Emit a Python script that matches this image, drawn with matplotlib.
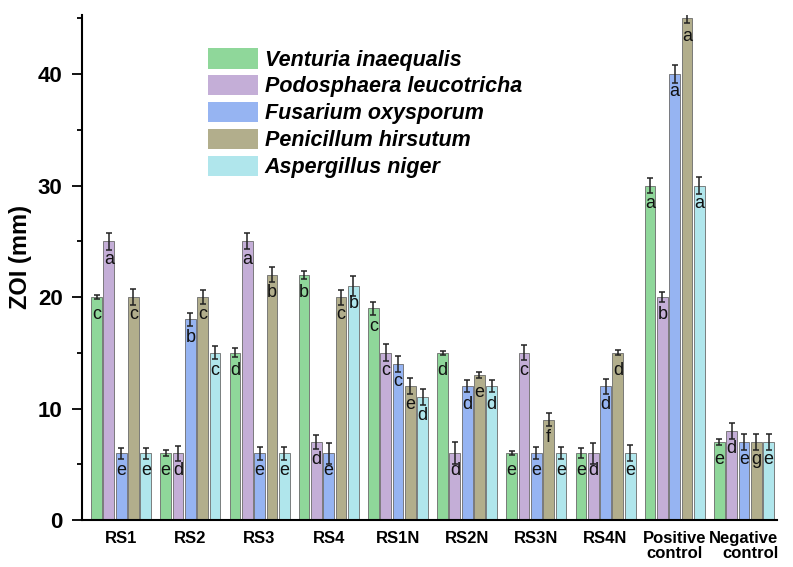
import matplotlib
matplotlib.use("Agg")
import matplotlib.pyplot as plt
import numpy as np

categories = ["RS1", "RS2", "RS3", "RS4", "RS1N", "RS2N", "RS3N", "RS4N",
              "Positive\ncontrol", "Negative\ncontrol"]
series_names = ["Venturia inaequalis", "Podosphaera leucotricha",
                "Fusarium oxysporum", "Penicillum hirsutum", "Aspergillus niger"]

venturia = [20, 6, 15, 22, 19, 15, 6, 6, 30, 7]
podosphaera = [25, 6, 25, 7, 15, 6, 15, 6, 20, 8]
fusarium = [6, 18, 6, 6, 14, 12, 6, 12, 40, 7]
penicillum = [20, 20, 22, 20, 12, 13, 9, 15, 45, 7]
aspergillus = [6, 15, 6, 21, 11, 12, 6, 6, 30, 7]

venturia_err = [0.15, 0.3, 0.4, 0.34, 0.6, 0.2, 0.2, 0.45, 0.65, 0.3]
podosphaera_err = [0.75, 0.67, 0.72, 0.64, 0.75, 0.97, 0.66, 0.94, 0.44, 0.74]
fusarium_err = [0.5, 0.6, 0.58, 0.94, 0.72, 0.52, 0.52, 0.66, 0.78, 0.7]
penicillum_err = [0.75, 0.65, 0.69, 0.67, 0.72, 0.3, 0.58, 0.22, 0.45, 0.7]
aspergillus_err = [0.5, 0.6, 0.58, 0.93, 0.72, 0.52, 0.52, 0.73, 0.8, 0.7]

venturia_let = ["c", "e", "d", "b", "c", "d", "e", "e", "a", "e"]
podosphaera_let = ["a", "d", "a", "d", "c", "d", "c", "d", "b", "d"]
fusarium_let = ["e", "b", "e", "e", "c", "d", "e", "d", "a", "e"]
penicillum_let = ["c", "c", "b", "c", "e", "e", "f", "d", "a", "g"]
aspergillus_let = ["e", "c", "e", "b", "d", "d", "e", "e", "a", "e"]

values = [venturia, podosphaera, fusarium, penicillum, aspergillus]
errors = [venturia_err, podosphaera_err, fusarium_err, penicillum_err, aspergillus_err]
letters = [venturia_let, podosphaera_let, fusarium_let, penicillum_let, aspergillus_let]
colors = ["#8fd79a", "#c4aed7", "#96b4f2", "#b2ae8c", "#b0e6ec"]

plt.rcParams['font.family'] = ['Liberation Sans', 'DejaVu Sans']

fig = plt.figure(figsize=(7.93, 5.67), dpi=100)
ax = fig.add_axes([0.1034, 0.0829, 0.8766, 0.8906])

x = np.arange(len(categories))
pitch = 0.178
width = 0.155
for i in range(5):
    xs = x + (i - 2) * pitch
    ax.bar(xs, values[i], width=width, color=colors[i], edgecolor="#6b6b6b",
           linewidth=0.6, label=series_names[i], zorder=2)
    ax.errorbar(xs, values[i], yerr=errors[i], fmt="none", ecolor="#222222",
                elinewidth=1.1, capsize=2.5, capthick=1.1, zorder=3)
    for xi, v, l in zip(xs, values[i], letters[i]):
        ax.text(xi, v - 1.6, l, ha="center", va="center", fontsize=13,
                color="#111111", zorder=4)

ax.set_xlim(-0.566, 9.48)
ax.set_ylim(0, 45.3)
ax.set_yticks([0, 10, 20, 30, 40])
ax.set_yticks([5, 15, 25, 35, 45], minor=True)
ax.set_xticks(x)
ax.set_xticklabels(categories, fontsize=12, fontweight="bold", linespacing=1.0)
ax.get_xticklabels()[-1].set_multialignment("right")
ax.tick_params(axis="x", length=0, pad=8)
ax.tick_params(axis="y", which="major", length=7.5, width=1.3, labelsize=16,
               direction="out", pad=6.5)
ax.tick_params(axis="y", which="minor", length=3.5, width=1.3, direction="out")
for lab in ax.get_yticklabels():
    lab.set_fontweight("bold")
ax.spines["top"].set_visible(False)
ax.spines["right"].set_visible(False)
ax.spines["left"].set_linewidth(1.5)
ax.spines["bottom"].set_linewidth(1.5)
ax.set_ylabel("ZOI (mm)", fontsize=17, fontweight="bold")
ax.yaxis.set_label_coords(-0.072, 0.52)

leg = ax.legend(loc="upper left", bbox_to_anchor=(0.181, 0.935), frameon=False,
                prop={"size": 15.5, "weight": "bold", "style": "italic"},
                handlelength=2.35, handleheight=1.1, labelspacing=0.2,
                handletextpad=0.3, borderaxespad=0, borderpad=0)
for h in leg.legend_handles:
    h.set_edgecolor("none")

fig.savefig("out.png", dpi=100)
